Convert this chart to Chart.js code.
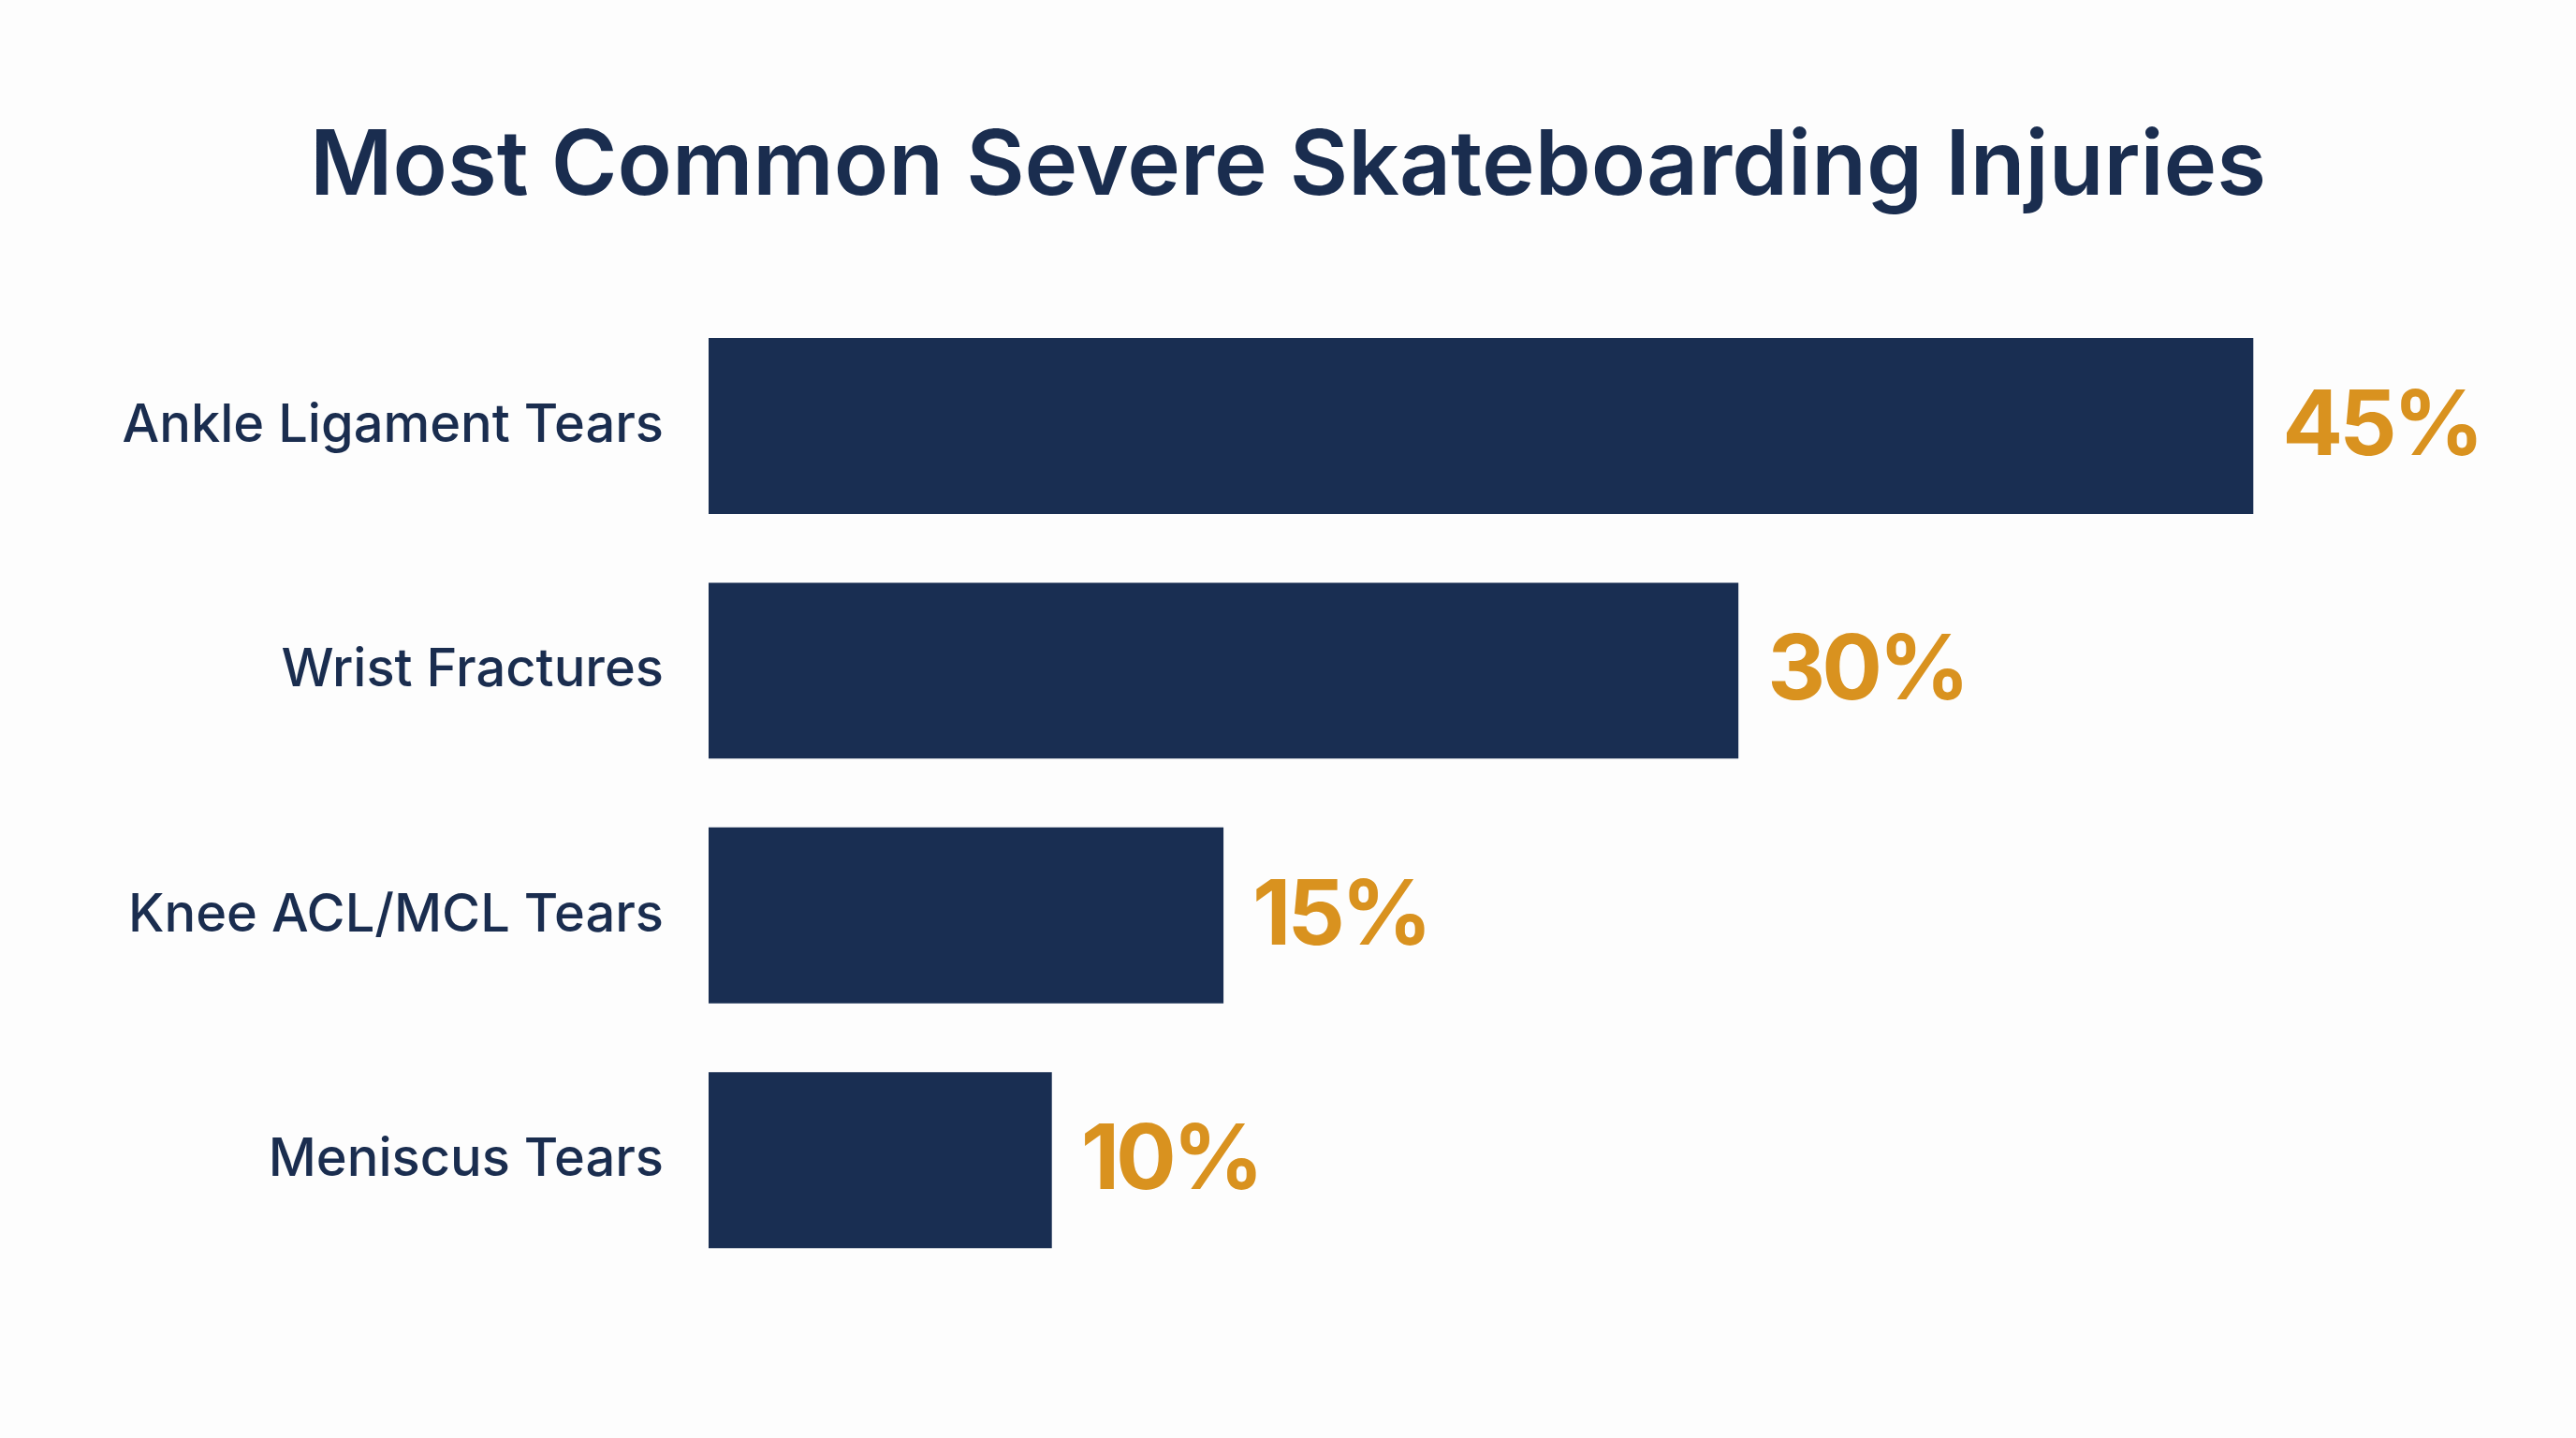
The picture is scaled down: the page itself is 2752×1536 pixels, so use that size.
<!DOCTYPE html>
<html>
<head>
<meta charset="utf-8">
<script src="https://cdn.jsdelivr.net/npm/chart.js@4"></script>
<style>
  html, body { margin: 0; padding: 0; background: #fdfdfd; }
  .wrap { width: 2752px; height: 1536px; position: relative; }
</style>
</head>
<body>
<div class="wrap"><canvas id="myChart"></canvas></div>
<script>
const categories = ['Ankle Ligament Tears', 'Wrist Fractures', 'Knee ACL/MCL Tears', 'Meniscus Tears'];
const values = [45, 30, 15, 10];
const valueLabels = ['45%', '30%', '15%', '10%'];

const navy = '#192e52';
const orange = '#d9921f';
const fontFamily = 'Inter, "Noto Sans", sans-serif';

// orange percentages just past the end of each bar
const valueLabelPlugin = {
  id: 'valueLabels',
  afterDatasetsDraw(chart) {
    const ctx = chart.ctx;
    const meta = chart.getDatasetMeta(0);
    ctx.save();
    ctx.fillStyle = orange;
    ctx.font = '700 96px ' + fontFamily;
    ctx.letterSpacing = '-4px';
    ctx.textAlign = 'left';
    ctx.textBaseline = 'middle';
    meta.data.forEach((bar, i) => {
      ctx.fillText(valueLabels[i], bar.x + 31, bar.y + 2);
    });
    ctx.restore();
  }
};

const ctx = document.getElementById('myChart');

new Chart(ctx, {
  type: 'bar',
  data: {
    labels: categories,
    datasets: [{
      data: values,
      backgroundColor: navy,
      borderWidth: 0,
      barPercentage: 1,
      categoryPercentage: 0.719
    }]
  },
  options: {
    indexAxis: 'y',
    responsive: true,
    maintainAspectRatio: false,
    devicePixelRatio: 1,
    animation: false,
    layout: { padding: { top: 0, right: 0, bottom: 166, left: 0 } },
    plugins: {
      legend: { display: false },
      tooltip: { enabled: false },
      title: {
        display: true,
        text: 'Most Common Severe Skateboarding Injuries',
        color: '#1a2d4f',
        font: { family: fontFamily, size: 96, weight: '600' },
        padding: { top: 122, bottom: 87 }
      }
    },
    scales: {
      x: {
        display: false,
        min: 0,
        max: 54.4
      },
      y: {
        grid: { display: false, drawTicks: false },
        border: { display: false },
        ticks: {
          color: '#1a2d4f',
          padding: 48,
          font: { family: fontFamily, size: 56, weight: '500' }
        },
        afterFit(scale) { scale.width = 757; }
      }
    }
  },
  plugins: [valueLabelPlugin]
});
</script>
</body>
</html>
